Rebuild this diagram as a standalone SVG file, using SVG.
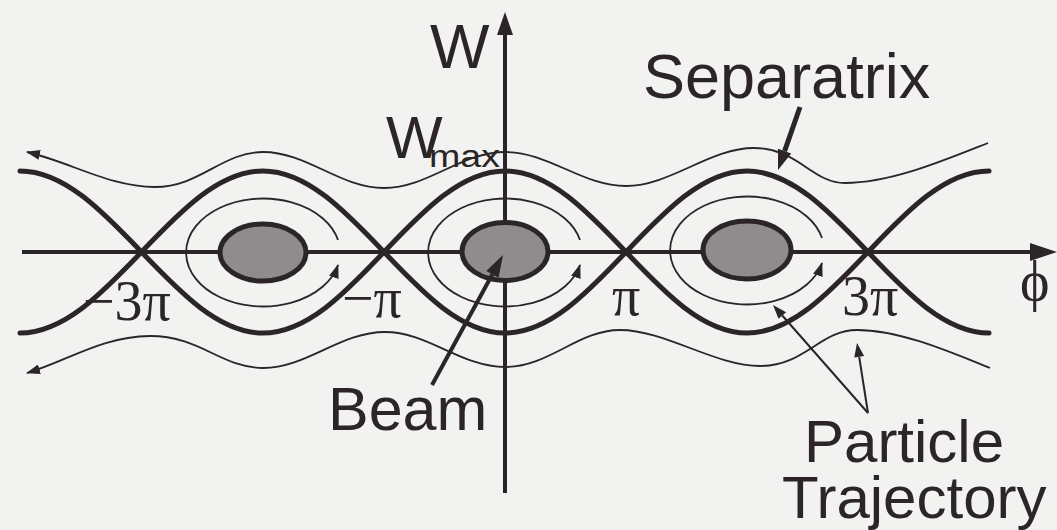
<svg xmlns="http://www.w3.org/2000/svg" width="1057" height="530" viewBox="0 0 1057 530">
<defs>
<style>
.bg{fill:#f2f2f1}
.sep{fill:none;stroke:#2b2528;stroke-width:5;stroke-linecap:round}
.thin{fill:none;stroke:#2b2528;stroke-width:1.8}
.axis{fill:none;stroke:#2b2528;stroke-width:4}
.ptr{fill:none;stroke:#2b2528}
.head{fill:#2b2528}
.beam{fill:#8e8c8d;stroke:#2b2528;stroke-width:5}
.sans{font-family:"Liberation Sans",Arial,sans-serif;fill:#2b2528}
.serif{font-family:"Liberation Serif","Times New Roman",serif;fill:#2b2528}
</style>
<marker id="ah" markerUnits="userSpaceOnUse" markerWidth="14" markerHeight="10" refX="13" refY="5" orient="auto-start-reverse" viewBox="0 0 14 10">
<path d="M0,0 L14,5 L0,10 z" fill="#2b2528"/>
</marker>
</defs>
<rect class="bg" x="0" y="0" width="1057" height="530"/>

<g id="axes">
<line class="axis" x1="22" y1="252" x2="1035" y2="252"/>
<polygon class="head" points="1057,252 1030,243 1030,261"/>
<line class="axis" x1="505" y1="493" x2="505" y2="32"/>
<polygon class="head" points="505,12 497,35 513,35"/>
</g>

<g id="separatrix">
<path class="sep" d="M 20 171 C 108 171, 175 333, 263 333 S 417 171, 505 171 S 659 333, 747 333 S 901 171, 989 171"/>
<path class="sep" d="M 20 333 C 108 333, 175 171, 263 171 S 417 333, 505 333 S 659 171, 747 171 S 901 333, 989 333"/>
</g>

<g id="outer-trajectories">
<path class="thin" marker-start="url(#ah)" d="M 27 152 C 70 162, 110 187, 155 187 C 200 187, 222 152, 263 152 C 307 152, 340 188, 384 188 C 428 188, 461 152, 505 152 C 549 152, 582 186, 626 186 C 670 186, 710 148, 754 148 C 798 148, 812 183, 845 183 C 890 183, 940 162, 988 143"/>
<path class="thin" marker-start="url(#ah)" d="M 27 373 C 70 360, 100 337, 150 336 C 200 336, 222 368, 263 368 C 307 368, 340 332, 385 332 C 428 332, 461 367, 505 367 C 549 367, 578 330, 620 330 C 665 330, 715 366, 760 366 C 805 366, 820 330, 857 330 C 900 330, 950 352, 990 368"/>
</g>

<g id="inner-trajectories">
<path class="thin" marker-end="url(#ah)" d="M 338 240 A 77 54 0 1 0 338 265"/>
<path class="thin" marker-end="url(#ah)" d="M 580 240 A 77 54 0 1 0 580 265"/>
<path class="thin" marker-end="url(#ah)" d="M 822 238 A 77 54 0 1 0 822 263"/>
</g>

<g id="beam-left"><ellipse class="beam" cx="263" cy="252.5" rx="43" ry="28.5"/></g>
<g id="beam-center"><ellipse class="beam" cx="505" cy="251.5" rx="43" ry="29"/></g>
<g id="beam-right"><ellipse class="beam" cx="747" cy="250" rx="44" ry="29"/></g>

<g id="connectors">
<line class="ptr" stroke-width="5" x1="800" y1="107" x2="784.6" y2="151.1"/>
<polygon class="head" points="778,170 791.2,153.4 778,148.8"/>
<line class="ptr" stroke-width="4" x1="432" y1="385" x2="492.4" y2="274.3"/>
<polygon class="head" points="503,255 498.5,277.7 486.3,270.9"/>
<line class="ptr" stroke-width="2" x1="868" y1="413" x2="782.3" y2="315.5"/>
<polygon class="head" points="773,305 786.1,312.2 778.5,318.8"/>
<line class="ptr" stroke-width="2" x1="868" y1="413" x2="859.2" y2="356.8"/>
<polygon class="head" points="857,343 864.1,356 854.3,357.6"/>
</g>

<g id="label-W"><text class="sans" x="430" y="68" font-size="63">W</text></g>
<g id="label-Wmax"><text class="sans" x="386" y="158" font-size="60">W</text><text class="sans" x="429" y="167" font-size="31" textLength="71" lengthAdjust="spacingAndGlyphs">max</text></g>
<g id="label-separatrix"><text class="sans" x="643" y="98" font-size="63">Separatrix</text></g>
<g id="label-beam"><text class="sans" x="328" y="430" font-size="61">Beam</text></g>
<g id="label-particle"><text class="sans" x="804" y="462" font-size="60">Particle</text><text class="sans" x="782" y="518" font-size="60">Trajectory</text></g>
<g id="tick-labels">
<text class="serif" x="83" y="320" font-size="56">−3π</text>
<text class="serif" x="342" y="317" font-size="56">−π</text>
<text class="serif" x="612" y="315" font-size="56">π</text>
<text class="serif" x="842" y="315" font-size="56">3π</text>
<text class="serif" x="1020" y="300" font-size="56">ϕ</text>
</g>
</svg>
